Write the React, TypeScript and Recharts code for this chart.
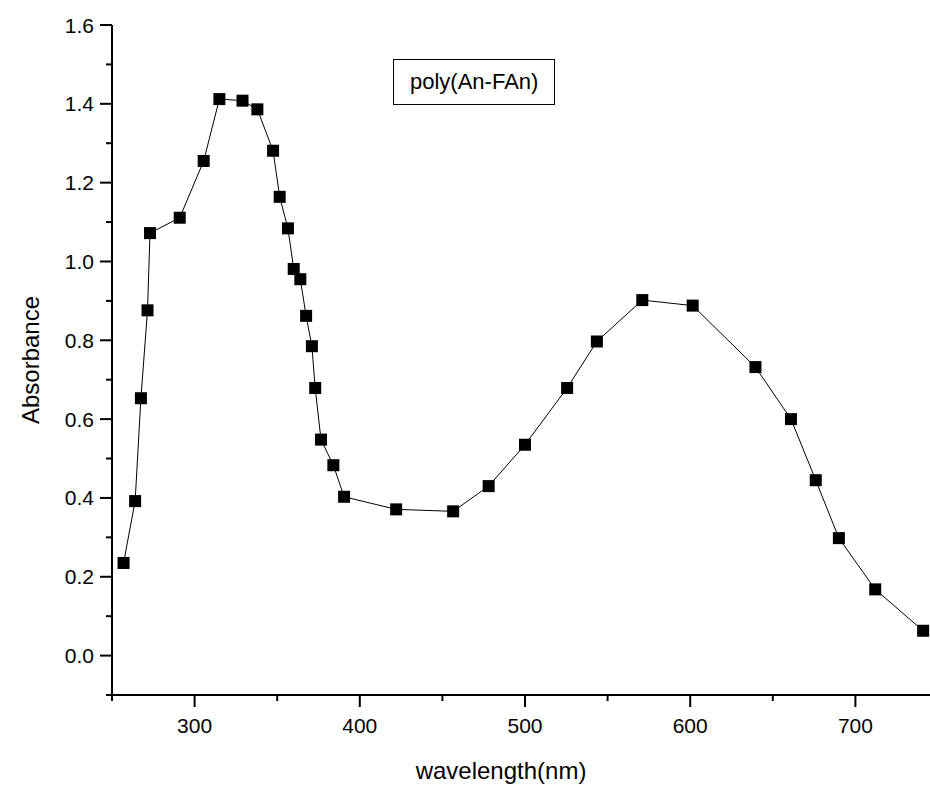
import { LineChart, Line, XAxis, YAxis, Label } from "recharts";

// UV-vis absorption spectrum, poly(An-FAn)
const WAVELENGTH = [
  257, 264, 267.5, 271.5, 273, 291, 305.5, 315, 329, 338, 347.5, 351.5, 356.5,
  360, 364, 367.5, 371, 373, 376.5, 384, 390.5, 422, 456.5, 478, 500, 525.5,
  543.5, 571, 601.5, 639.5, 661, 676, 690, 712, 741,
];
const ABSORBANCE = [
  0.235, 0.392, 0.653, 0.876, 1.072, 1.111, 1.255, 1.412, 1.408, 1.386, 1.281,
  1.164, 1.084, 0.981, 0.955, 0.862, 0.785, 0.679, 0.548, 0.483, 0.403, 0.371,
  0.366, 0.43, 0.535, 0.679, 0.797, 0.902, 0.888, 0.732, 0.6, 0.445, 0.298,
  0.168, 0.063,
];
const X_TICKS = [250, 300, 350, 400, 450, 500, 550, 600, 650, 700, 750];
const Y_TICKS = [
  -0.1, 0, 0.1, 0.2, 0.3, 0.4, 0.5, 0.6, 0.7, 0.8, 0.9, 1.0, 1.1, 1.2, 1.3,
  1.4, 1.5, 1.6,
];
const SERIES_NAME = "poly(An-FAn)";

const data = WAVELENGTH.map((w, i) => ({ w, a: ABSORBANCE[i] }));

const FONT = "'Liberation Sans', Arial, sans-serif";
const MAJOR = 12;
const MINOR = 6;

function XTick({ x, y, payload }: any) {
  const v = payload.value as number;
  const major = v % 100 === 0;
  return (
    <g>
      <line x1={x} x2={x} y1={y} y2={y + (major ? MAJOR : MINOR)} stroke="#000" strokeWidth={2} />
      {major && (
        <text x={x} y={y + 38} textAnchor="middle" fontSize={21} fontFamily={FONT} fill="#000">
          {v}
        </text>
      )}
    </g>
  );
}

function YTick({ x, y, payload }: any) {
  const v = payload.value as number;
  const major = Math.round(v * 10) % 2 === 0;
  return (
    <g>
      <line x1={x} x2={x - (major ? MAJOR : MINOR)} y1={y} y2={y} stroke="#000" strokeWidth={2} />
      {major && (
        <text x={x - 18} y={y + 7.5} textAnchor="end" fontSize={21} fontFamily={FONT} fill="#000">
          {v.toFixed(1)}
        </text>
      )}
    </g>
  );
}

function SquareDot({ cx, cy }: any) {
  return <rect x={cx - 6} y={cy - 6} width={12} height={12} fill="#000" />;
}

export default function App() {
  return (
    <div
      style={{
        position: "absolute",
        left: 0,
        top: 0,
        width: 930,
        height: 787,
        overflow: "hidden",
        background: "#fff",
      }}
    >
      <LineChart
        width={940}
        height={787}
        data={data}
        margin={{ top: 25, right: 2, bottom: 0, left: 0 }}
      >
        <XAxis
          dataKey="w"
          type="number"
          domain={[250, 750]}
          ticks={X_TICKS}
          interval={0}
          height={92}
          axisLine={{ stroke: "#000", strokeWidth: 2 }}
          tickLine={false}
          tickSize={0}
          tickMargin={0}
          tick={<XTick />}
        >
          <Label
            value="wavelength(nm)"
            position="insideBottom"
            offset={8}
            dx={-24}
            style={{ fontSize: 24, fontFamily: FONT, fill: "#000" }}
          />
        </XAxis>
        <YAxis
          type="number"
          domain={[-0.1, 1.6]}
          ticks={Y_TICKS}
          interval={0}
          width={112}
          axisLine={{ stroke: "#000", strokeWidth: 2 }}
          tickLine={false}
          tickSize={0}
          tickMargin={0}
          tick={<YTick />}
        >
          <Label
            value="Absorbance"
            position="center"
            angle={-90}
            dx={-26}
            style={{ fontSize: 24, fontFamily: FONT, fill: "#000" }}
          />
        </YAxis>
        <Line
          dataKey="a"
          name={SERIES_NAME}
          stroke="#000"
          strokeWidth={1}
          dot={<SquareDot />}
          activeDot={false}
          isAnimationActive={false}
        />
      </LineChart>
      {/* series name box */}
      <div
        style={{
          position: "absolute",
          left: 393,
          top: 59,
          boxSizing: "border-box",
          height: 46,
          border: "1.5px solid #000",
          padding: "0 16px",
          lineHeight: "43px",
          fontSize: 22,
          fontFamily: FONT,
          color: "#000",
          background: "#fff",
          whiteSpace: "nowrap",
        }}
      >
        {SERIES_NAME}
      </div>
    </div>
  );
}
